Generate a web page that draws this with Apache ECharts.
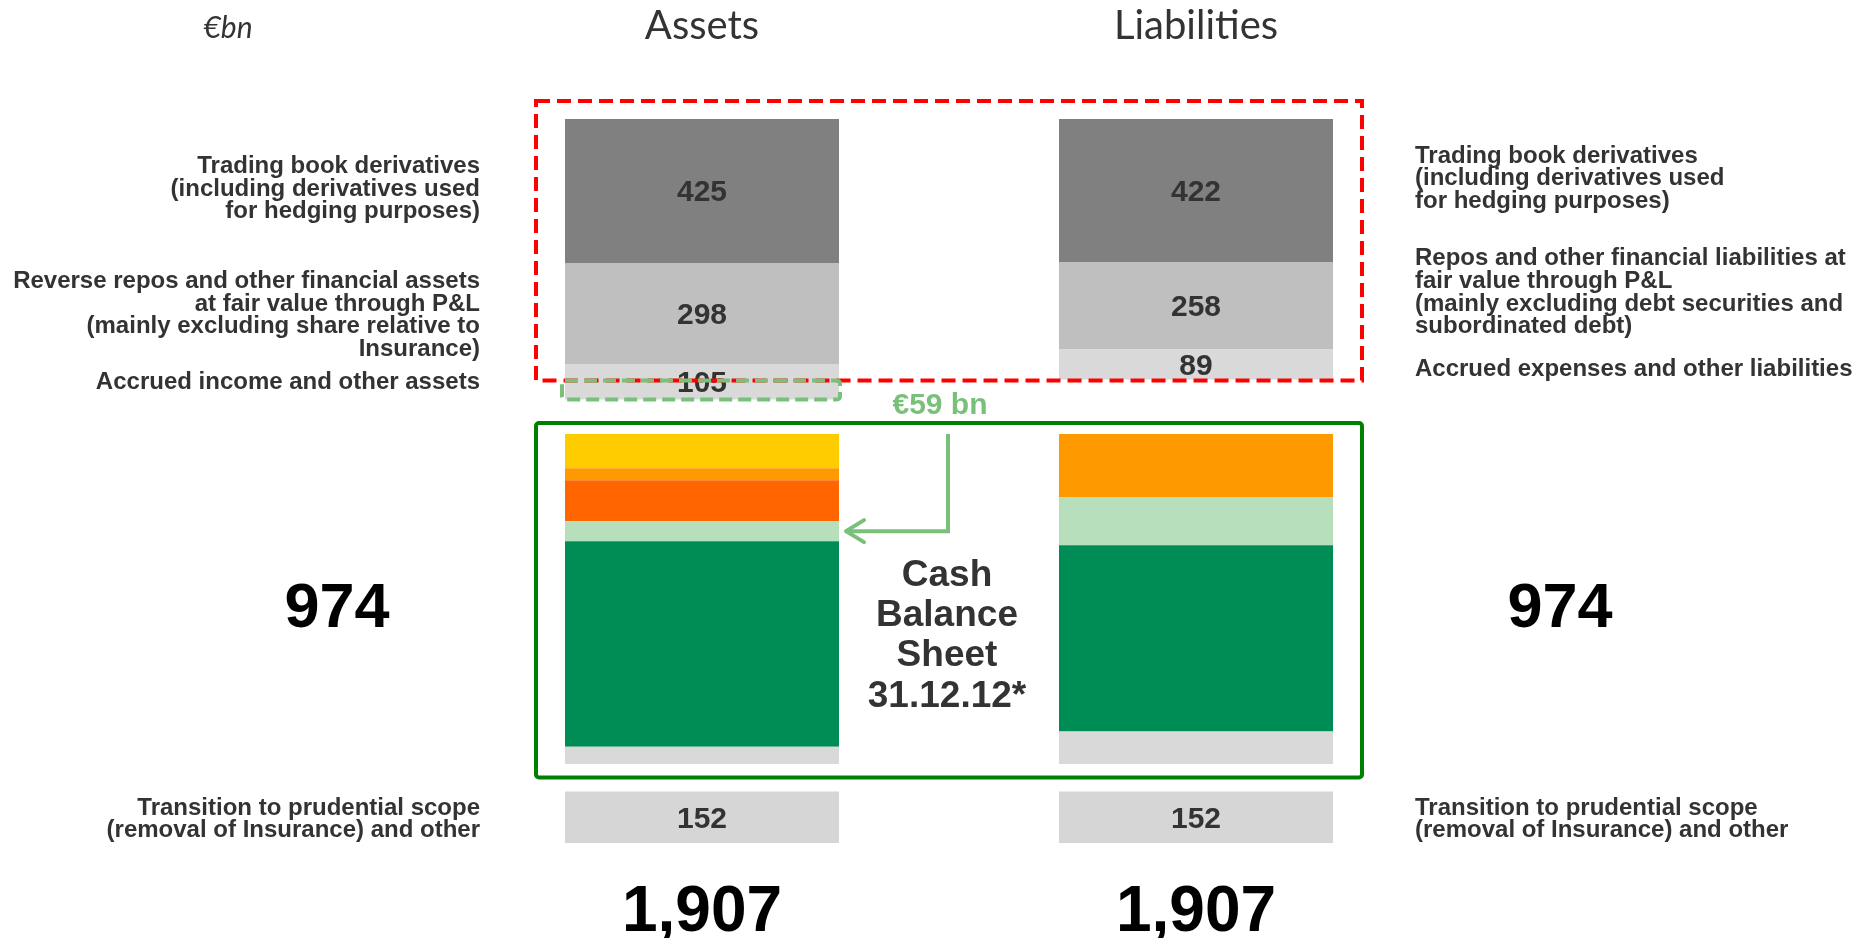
<!DOCTYPE html>
<html>
<head>
<meta charset="utf-8">
<script src="https://cdn.jsdelivr.net/npm/echarts@6/dist/echarts.min.js"></script>
<style>
  html, body { margin: 0; padding: 0; background: #ffffff; }
  #chart { width: 1870px; height: 938px; }
</style>
</head>
<body>
<div id="chart"></div>
<script>
// ---- Data (€bn) ----
const categories = ['Assets', 'Liabilities'];

// Trading-book block
const tradingDerivatives = [425, 422];
const reposFairValue = [298, 258];
const accruedOther = [105, 89];

// Cash balance sheet 31.12.12, top to bottom
const cashYellow = [101, 0];
const cashOrange = [35, 186];
const cashDarkOrange = [121, 0];
const cashLightGreen = [59, 142];
const cashGreen = [607, 550];
const cashGrey = [51, 96];
const cashTotal = [974, 974];

// Transition to prudential scope
const transition = [152, 152];
const grandTotal = [1907, 1907];

const leftLabels = [
  'Trading book derivatives\n(including derivatives used\nfor hedging purposes)',
  'Reverse repos and other financial assets\nat fair value through P&L\n(mainly excluding share relative to\nInsurance)',
  'Accrued income and other assets'
];
const rightLabels = [
  'Trading book derivatives\n(including derivatives used\nfor hedging purposes)',
  'Repos and other financial liabilities at\nfair value through P&L\n(mainly excluding debt securities and\nsubordinated debt)',
  'Accrued expenses and other liabilities'
];
const transitionLabel = 'Transition to prudential scope\n(removal of Insurance) and other';
const cashTitle = 'Cash\nBalance\nSheet\n31.12.12*';
const unitLabel = '€bn';

// ---- Layout (value units along the stacked axis) ----
const CASH_START = 930;   // level where the cash balance sheet block begins
const SECTION_GAP = 81;   // space between cash block and transition bar
const BAR_W = 274;

const topBlock = categories.map((_, i) => tradingDerivatives[i] + reposFairValue[i] + accruedOther[i]);
const gapTop = topBlock.map(v => CASH_START - v);
const gapBottom = categories.map(() => SECTION_GAP);
const yMax = CASH_START + cashTotal[0] + SECTION_GAP + transition[0];

const FONT = '"Liberation Sans", Arial, Helvetica, sans-serif';
const TEXT = '#333333';

const segments = [
  { name: 'Trading book derivatives', data: tradingDerivatives, color: '#808080', label: true },
  { name: 'Repos at fair value', data: reposFairValue, color: '#bfbfbf', label: true },
  { name: 'Accrued and other', data: accruedOther, color: '#d9d9d9', label: true },
  { name: 'spacerTop', data: gapTop, color: 'rgba(0,0,0,0)', spacer: true },
  { name: 'Cash yellow', data: cashYellow, color: '#ffcc00' },
  { name: 'Cash orange', data: cashOrange, color: '#ff9900' },
  { name: 'Cash dark orange', data: cashDarkOrange, color: '#ff6600' },
  { name: 'Cash light green', data: cashLightGreen, color: '#b8dfbb' },
  { name: 'Cash green', data: cashGreen, color: '#008c55' },
  { name: 'Cash grey', data: cashGrey, color: '#d9d9d9' },
  { name: 'spacerBottom', data: gapBottom, color: 'rgba(0,0,0,0)', spacer: true },
  { name: 'Transition', data: transition, color: '#d6d6d6', label: true }
];

const chart = echarts.init(document.getElementById('chart'), null, { renderer: 'canvas' });

chart.setOption({
  animation: false,
  backgroundColor: '#ffffff',
  grid: { left: 455, right: 427, top: 119, bottom: 95 },
  xAxis: { type: 'category', data: categories, show: false },
  yAxis: { type: 'value', inverse: true, min: 0, max: yMax, show: false },
  series: segments.map(s => ({
    name: s.name,
    type: 'bar',
    stack: 'sheet',
    barWidth: BAR_W,
    silent: !!s.spacer,
    data: s.data,
    itemStyle: { color: s.color },
    label: {
      show: !!s.label,
      position: 'inside',
      offset: [0, 2],
      color: TEXT,
      fontFamily: FONT,
      fontWeight: 'bold',
      fontSize: 30
    }
  }))
});

// ---- Annotations anchored to the bar geometry ----
const px = (i, v) => chart.convertToPixel({ gridIndex: 0 }, [i, v]);
const cx = i => px(i, 0)[0];
const yAt = (i, v) => px(i, v)[1];
const leftOf = i => cx(i) - BAR_W / 2;
const rightOf = i => cx(i) + BAR_W / 2;

const A = 0, L = 1;
const barTop = yAt(A, 0);
const cashTopY = yAt(A, CASH_START);
const cashBottomY = yAt(A, CASH_START + cashTotal[A]);
const cashMidY = (cashTopY + cashBottomY) / 2;
const transTop = CASH_START + cashTotal[A] + SECTION_GAP;
const transMidY = yAt(A, transTop + transition[A] / 2);
const transBottomY = yAt(A, transTop + transition[A]);

function segMid(i, k) {
  const arrs = [tradingDerivatives, reposFairValue, accruedOther];
  let start = 0;
  for (let j = 0; j < k; j++) start += arrs[j][i];
  return yAt(i, start + arrs[k][i] / 2);
}

function text(x, y, str, o) {
  return {
    type: 'text', z: 10, silent: true,
    style: Object.assign({
      x: x, y: y, text: str, fill: TEXT,
      fontFamily: FONT, fontWeight: 'bold', fontSize: 24,
      lineHeight: 22.6, align: 'left', verticalAlign: 'middle'
    }, o || {})
  };
}

const graphics = [];

// column headers and unit
categories.forEach((c, i) => {
  graphics.push(text(cx(i), 26, c, {
    fontFamily: 'Lato, "Open Sans", sans-serif', fontWeight: 'normal',
    fontSize: 40, align: 'center', fill: '#333333'
  }));
});
graphics.push(text(228, 28, unitLabel, {
  fontFamily: 'Lato, "Open Sans", sans-serif', fontWeight: 'normal',
  fontStyle: 'italic', fontSize: 30, align: 'center', fill: '#333333'
}));

// row descriptions
const leftX = leftOf(A) - 85;
const rightX = rightOf(L) + 82;
const leftShift = [-2, 2, 1];
const rightShift = [-12, -13, 5];
leftLabels.forEach((t, k) => {
  graphics.push(text(leftX, segMid(A, k) + leftShift[k], t, { align: 'right' }));
});
rightLabels.forEach((t, k) => {
  graphics.push(text(rightX, segMid(L, k) + rightShift[k], t, { align: 'left' }));
});
graphics.push(text(leftX, transMidY + 2, transitionLabel, { align: 'right' }));
graphics.push(text(rightX, transMidY + 2, transitionLabel, { align: 'left' }));

// cash totals beside the block
graphics.push(text(leftOf(A) - 228, cashMidY + 11, String(cashTotal[A]), { fontSize: 63, align: 'center', fill: '#000000' }));
graphics.push(text(rightOf(L) + 227, cashMidY + 11, String(cashTotal[L]), { fontSize: 63, align: 'center', fill: '#000000' }));

// grand totals under each column
categories.forEach((c, i) => {
  graphics.push(text(cx(i), transBottomY + 70, grandTotal[i].toLocaleString('en-US'), {
    fontSize: 64, align: 'center', fill: '#000000'
  }));
});

// red dashed frame around the trading-book block
const frameLeft = leftOf(A) - 29;
const frameRight = rightOf(L) + 29;
const redTop = barTop - 18;
const redBottom = yAt(L, topBlock[L]) + 1;
graphics.push({
  type: 'rect', z: 8, silent: true,
  shape: { x: frameLeft, y: redTop, width: frameRight - frameLeft, height: redBottom - redTop },
  style: { fill: 'none', stroke: '#ff0000', lineWidth: 4, lineDash: [14, 7] }
});

// green frame around the cash balance sheet
const greenTop = cashTopY - 11;
const greenBottom = cashBottomY + 13.5;
graphics.push({
  type: 'rect', z: 8, silent: true,
  shape: { x: frameLeft, y: greenTop, width: frameRight - frameLeft, height: greenBottom - greenTop, r: 3 },
  style: { fill: 'none', stroke: '#008000', lineWidth: 4 }
});

// dashed outline: the part of accrued income moved into the cash block
const moved = cashLightGreen[A];
const movedTop = yAt(A, topBlock[A] - moved);
const movedBottom = yAt(A, topBlock[A]);
graphics.push({
  type: 'rect', z: 9, silent: true,
  shape: { x: leftOf(A) - 3, y: movedTop + 1, width: BAR_W + 4, height: movedBottom - movedTop - 1, r: 3 },
  style: { fill: 'none', stroke: '#79c07b', lineWidth: 4, lineDash: [13, 6] }
});

// arrow into the light green cash segment
const midX = (rightOf(A) + leftOf(L)) / 2;
const lgStart = CASH_START + cashYellow[A] + cashOrange[A] + cashDarkOrange[A];
const arrowY = yAt(A, lgStart + cashLightGreen[A] / 2);
const tipX = rightOf(A) + 6;
graphics.push({
  type: 'polyline', z: 9, silent: true,
  shape: { points: [[midX - 1, cashTopY], [midX - 1, arrowY], [tipX, arrowY]] },
  style: { fill: 'none', stroke: '#79c07b', lineWidth: 4, lineJoin: 'miter' }
});
graphics.push({
  type: 'polyline', z: 9, silent: true,
  shape: { points: [[tipX + 19, arrowY - 11], [tipX + 1, arrowY], [tipX + 19, arrowY + 11]] },
  style: { fill: 'none', stroke: '#79c07b', lineWidth: 4, lineCap: 'round', lineJoin: 'round' }
});
graphics.push(text(midX - 9, (redBottom + greenTop) / 2 + 4, '€' + moved + ' bn', {
  fontSize: 30, align: 'center', fill: '#79c07b'
}));

// block title
graphics.push(text(midX - 2, cashMidY + 37, cashTitle, {
  fontSize: 37, lineHeight: 40.3, align: 'center'
}));

chart.setOption({ graphic: graphics });
</script>
</body>
</html>
